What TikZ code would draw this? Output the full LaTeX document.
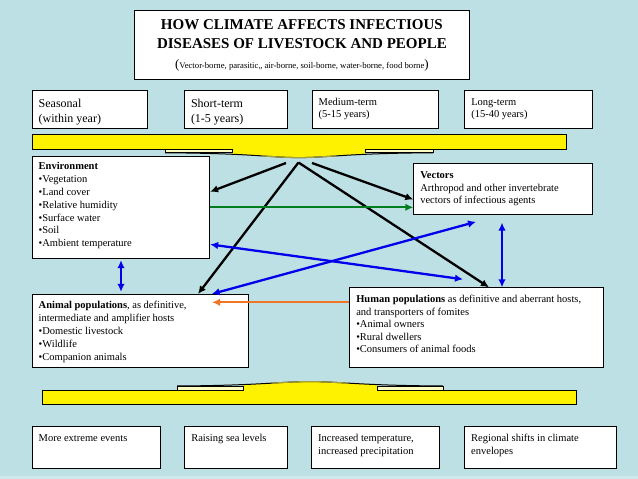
\documentclass[tikz,border=0pt]{standalone}
\usepackage{fontspec}
\setmainfont{Liberation Serif}
\usetikzlibrary{arrows.meta}
\definecolor{bg}{RGB}{189,224,228}
\definecolor{bgl}{RGB}{206,233,236}
\definecolor{ablue}{RGB}{0,0,235}
\definecolor{agreen}{RGB}{0,125,30}
\definecolor{aorange}{RGB}{238,118,38}
\newcommand{\tbx}[4]{\parbox[t][#2][t]{#1}{\raggedright\rule{0pt}{#3}#4}}
\newcommand{\fA}{\fontsize{12}{15}\selectfont}
\newcommand{\fB}{\fontsize{10.5}{12.3}\selectfont}
\newcommand{\fC}{\fontsize{10.5}{12.8}\selectfont}
\newcommand{\fD}{\fontsize{10.5}{13.5}\selectfont}
\tikzset{
  box/.style={draw=black, line width=0.8pt, fill=white, inner xsep=6.6pt, inner ysep=0pt, anchor=north west},
  blk/.style={draw=black, line width=2.3pt, -{Latex[length=8pt,width=7.5pt]}},
  grn/.style={draw=agreen, line width=2.1pt, -{Latex[length=8pt,width=7.5pt]}},
  org/.style={draw=aorange, line width=2.3pt, -{Latex[length=8pt,width=7.5pt]}},
  blu/.style={draw=ablue, line width=2.3pt, {Latex[length=8pt,width=7.5pt]}-{Latex[length=8pt,width=7.5pt]}},
  ybar/.style={draw=black, line width=0.8pt, fill=yellow},
  tab/.style={draw=black, line width=0.6pt, fill=white!75!yellow},
}
\begin{document}
\begin{tikzpicture}[x=1pt, y=-1pt]
\fill[bg] (0,0) rectangle (638,479);
\fill[bgl] (0,476) rectangle (638,479);
\useasboundingbox (0,0) rectangle (638,479);

% title
\node[box, inner xsep=0pt] (title) at (134,10) {\parbox[t][69pt][t]{335pt}{\centering\rule{0pt}{19.3pt}\fontsize{15}{18.4}\selectfont\bfseries HOW CLIMATE AFFECTS INFECTIOUS\\DISEASES OF LIVESTOCK AND PEOPLE\par\fontsize{13}{20}\selectfont\mdseries(\fontsize{8.7}{20}\selectfont Vector-borne, parasitic,, air-borne, soil-borne, water-borne, food borne\fontsize{13}{20}\selectfont)\par}};

% time-scale boxes
\node[box] (seas) at (31.7,90) {\tbx{101.8pt}{37.7pt}{17pt}{\fA Seasonal\\(within year)}};
\node[box] (short) at (184,90) {\tbx{89.5pt}{37.7pt}{17pt}{\fA Short-term\\(1-5 years)}};
\node[box] (medium) at (311.7,90) {\tbx{113.4pt}{37.7pt}{15pt}{\fB Medium-term\\(5-15 years)}};
\node[box] (long) at (464.3,90) {\tbx{114.2pt}{37.7pt}{15pt}{\fB Long-term\\(15-40 years)}};

% top brace
\draw[ybar] (32,134) rectangle (566,149);
\begin{scope}
\clip (232,148) rectangle (365,170);
\fill[yellow] (165,148.6) -- (165,152.6) .. controls (250,153) and (270,157.5) .. (299,157.5) .. controls (328,157.5) and (348,153) .. (433,152.6) -- (433,148.6) -- cycle;
\end{scope}
\draw[line width=1pt, black] (165,152.8) .. controls (250,153.2) and (270,157.6) .. (299,157.6) .. controls (328,157.6) and (348,153.2) .. (433,152.8);
\begin{scope}
\clip (262,150) rectangle (336,170);
\draw[line width=1.1pt, yellow!60!black] (165,152.8) .. controls (250,153.2) and (270,157.6) .. (299,157.6) .. controls (328,157.6) and (348,153.2) .. (433,152.8);
\end{scope}
\draw[tab] (165,149) rectangle (232,152);
\draw[tab] (365,149) rectangle (433,152);

% central boxes
\node[box] (env) at (31.7,156) {\tbx{164.4pt}{102.3pt}{13.5pt}{\fC\textbf{Environment}\\•Vegetation\\•Land cover\\•Relative humidity\\•Surface water\\•Soil\\•Ambient temperature}};
\node[box] (vec) at (413.3,163.3) {\tbx{165.2pt}{51pt}{14.5pt}{\fC\textbf{Vectors}\\Arthropod and other invertebrate\\vectors of infectious agents}};
\node[box] (animal) at (31.7,294) {\tbx{203.4pt}{72.7pt}{14.5pt}{\fC\textbf{Animal populations}, as definitive,\\intermediate and amplifier hosts\\•Domestic livestock\\•Wildlife\\•Companion animals}};
\node[box] (human) at (349.3,287.3) {\tbx{240.8pt}{79.4pt}{15.2pt}{\fontsize{10.5}{12.5}\selectfont\textbf{Human populations} as definitive and aberrant hosts,\\and transporters of fomites\\•Animal owners\\•Rural dwellers\\•Consumers of animal foods}};

% bottom brace
\draw[ybar] (42,390.5) rectangle (576,404.5);
\begin{scope}
\clip (243,375) rectangle (377,391);
\fill[yellow] (177,391.2) -- (177,386) .. controls (260,385.5) and (280,381.6) .. (310,381.6) .. controls (340,381.6) and (360,385.5) .. (443,386) -- (443,391.2) -- cycle;
\end{scope}
\draw[line width=1pt, black] (177,386) .. controls (260,385.5) and (280,381.6) .. (310,381.6) .. controls (340,381.6) and (360,385.5) .. (443,386);
\begin{scope}
\clip (272,375) rectangle (348,386);
\draw[line width=1.1pt, yellow!60!black] (177,386) .. controls (260,385.5) and (280,381.6) .. (310,381.6) .. controls (340,381.6) and (360,385.5) .. (443,386);
\end{scope}
\draw[tab] (177,386) rectangle (243,390.5);
\draw[tab] (377,386) rectangle (443,390.5);

% bottom boxes
\node[box] (extreme) at (31.7,425.6) {\tbx{114.6pt}{42.5pt}{15pt}{\fD More extreme events}};
\node[box] (sea) at (184.3,425.6) {\tbx{89.3pt}{42.5pt}{15pt}{\fD Raising sea levels}};
\node[box] (temp) at (311.2,425.6) {\tbx{114.2pt}{42.5pt}{15pt}{\fD Increased temperature,\\increased precipitation}};
\node[box] (shift) at (464.2,425.6) {\tbx{139pt}{42.5pt}{15pt}{\fD Regional shifts in climate\\envelopes}};

% connector end points
\coordinate (apex) at (298.5,162.5);
\coordinate (bl) at (286,163);
\coordinate (br) at (312,163);
\coordinate (hb) at (463,279.3);
\coordinate (vb) at (476,221.8);
\coordinate (vt) at (502,222.6);
\coordinate (eb) at (121,260.2);
\coordinate (at) at (121,291.8);
\coordinate (ao) at (212,302.3);

% connectors
\draw[blk] (bl) -- (env.east |- 0,191.8);
\draw[blk] (apex) -- (animal.north -| 198,0);
\draw[blk] (apex) -- (human.north -| 489,0);
\draw[blk] (br) -- (vec.west |- 0,199.5);
\draw[grn] (env.east |- 0,207.3) -- (vec.west |- 0,207.3);
\draw[blu] (env.east |- 0,244.4) -- (hb);
\draw[blu] (animal.north -| 211.7,0) -- (vb);
\draw[blu] (eb) -- (at);
\draw[blu] (vt) -- (human.north -| 502,0);
\draw[org] (human.west |- 0,302.3) -- (ao);
\end{tikzpicture}
\end{document}
